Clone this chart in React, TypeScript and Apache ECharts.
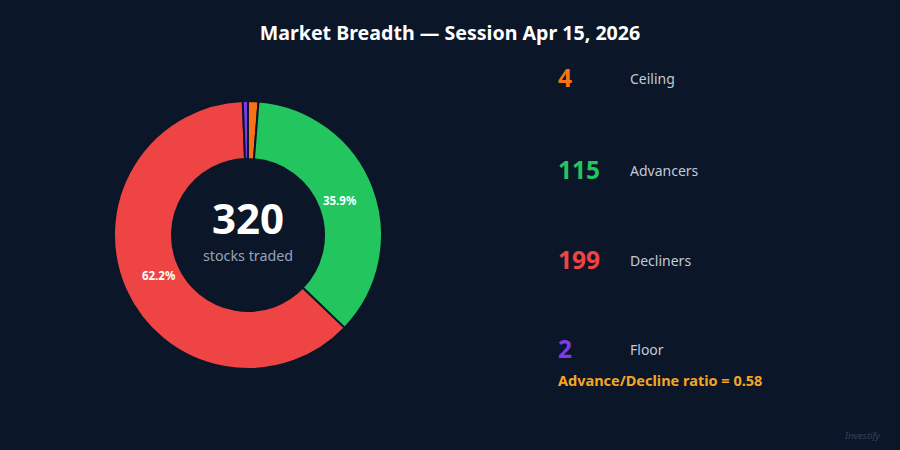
import React from 'react';
import * as echarts from 'echarts';

const categories = ['Ceiling', 'Advancers', 'Decliners', 'Floor'];
const counts = [4, 115, 199, 2];
const colors = ['#f97316', '#22c55e', '#ef4444', '#7c3aed'];
const legendRowsY = [78, 170, 260, 349];

const BG = '#0b1628';
const FONT = '"Noto Sans", "Open Sans", sans-serif';

export default function App() {
  const chartRef = React.useRef<HTMLDivElement>(null);

  React.useEffect(() => {
    if (!chartRef.current) return;
    const chart = echarts.init(chartRef.current, undefined, { renderer: 'svg' });

    const total = counts.reduce((a, b) => a + b, 0);
    const ratio = counts[1] / counts[2];
    const pieData = categories.map((name, i) => ({
      name,
      value: counts[i],
      itemStyle: { color: colors[i] },
    }));

    // right-hand legend: big coloured number + name
    const legendTexts: any[] = [];
    categories.forEach((name, i) => {
      legendTexts.push({
        type: 'text',
        left: 558,
        top: legendRowsY[i] - 13,
        style: {
          text: String(counts[i]),
          fill: colors[i],
          font: `bold 24.5px ${FONT}`,
        },
      });
      legendTexts.push({
        type: 'text',
        left: 630,
        top: legendRowsY[i] - 7,
        style: {
          text: name,
          fill: '#c3cad6',
          font: `14px ${FONT}`,
        },
      });
    });

    chart.setOption({
      animation: false,
      backgroundColor: BG,
      textStyle: { fontFamily: FONT },
      title: {
        text: 'Market Breadth \u2014 Session Apr 15, 2026',
        left: 'center',
        top: 17,
        textStyle: { color: '#ffffff', fontSize: 19.6, fontWeight: 'bold', fontFamily: FONT },
      },
      series: [
        {
          type: 'pie',
          center: [248, 235],
          radius: [76, 134],
          startAngle: 90,
          clockwise: true,
          silent: true,
          itemStyle: { borderColor: BG, borderWidth: 2 },
          label: { show: false },
          labelLine: { show: false },
          data: pieData,
        },
        {
          // label carrier: sits a little inside the ring's middle
          type: 'pie',
          center: [248, 235],
          radius: [76, 114],
          startAngle: 90,
          clockwise: true,
          silent: true,
          itemStyle: { color: 'transparent', borderWidth: 0 },
          label: {
            show: true,
            position: 'inside',
            color: '#ffffff',
            fontSize: 11.5,
            fontWeight: 'bold',
            fontFamily: FONT,
            formatter: (p: any) => (p.percent > 5 ? `${p.percent.toFixed(1)}%` : ''),
          },
          labelLine: { show: false },
          data: pieData.map((d) => ({ name: d.name, value: d.value })),
        },
      ],
      graphic: [
        {
          type: 'text',
          x: 248,
          y: 196,
          style: {
            text: String(total),
            fill: '#ffffff',
            font: `bold 42px ${FONT}`,
            textAlign: 'center',
          },
        },
        {
          type: 'text',
          x: 248,
          y: 248,
          style: {
            text: 'stocks traded',
            fill: '#94a3b8',
            font: `14.3px ${FONT}`,
            textAlign: 'center',
          },
        },
        ...legendTexts,
        {
          type: 'text',
          left: 558,
          top: 372,
          style: {
            text: `Advance/Decline ratio = ${ratio.toFixed(2)}`,
            fill: '#f5a524',
            font: `bold 14.5px ${FONT}`,
          },
        },
        {
          type: 'text',
          right: 20,
          bottom: 10,
          style: {
            text: 'Investify',
            fill: '#34425a',
            font: `italic 9.5px ${FONT}`,
          },
        },
      ],
    });

    return () => {
      chart.dispose();
    };
  }, []);

  return (
    <div
      ref={chartRef}
      style={{ position: 'absolute', left: 0, top: 0, width: 900, height: 450 }}
    />
  );
}
